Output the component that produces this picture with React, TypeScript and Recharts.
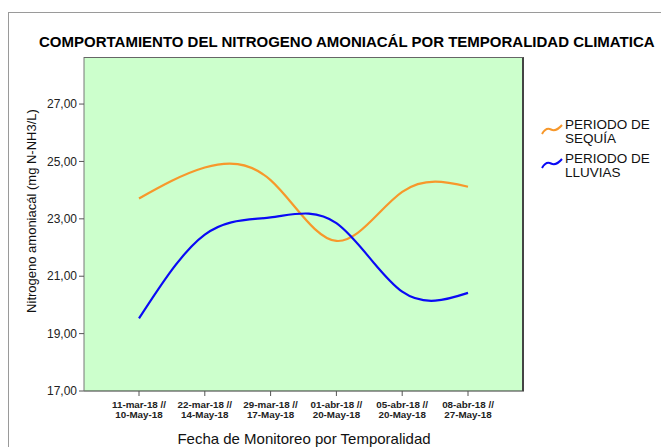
import React from "react";
import {
  LineChart,
  Line,
  XAxis,
  YAxis,
  CartesianGrid,
} from "recharts";

// ---- data ----
const fechasSequia = ["11-mar-18", "22-mar-18", "29-mar-18", "01-abr-18", "05-abr-18", "08-abr-18"];
const fechasLluvias = ["10-May-18", "14-May-18", "17-May-18", "20-May-18", "20-May-18", "27-May-18"];
const sequia = [23.71, 24.79, 24.35, 22.23, 23.94, 24.12];
const lluvias = [19.53, 22.45, 23.05, 22.85, 20.46, 20.42];
const yTicks = [17, 19, 21, 23, 25, 27];
const yDomain = [17, 28.64];
const seriesNames = ["PERIODO DE SEQUÍA", "PERIODO DE LLUVIAS"];
const seriesColors = ["#F7982B", "#0A0AF5"];
const titulo = "COMPORTAMIENTO DEL NITROGENO AMONIACÁL POR TEMPORALIDAD CLIMATICA";
const yTitulo = "Nitrogeno amoniacál  (mg N-NH3/L)";
const xTitulo = "Fecha de Monitoreo por Temporalidad";

const data = fechasSequia.map((f, i) => ({
  fecha: f,
  sequia: sequia[i],
  lluvias: lluvias[i],
}));

const FONT = "Arial, 'Liberation Sans', Helvetica, sans-serif";

const XTick = (props: any) => {
  const { x, y, payload } = props;
  const i = payload.index;
  return (
    <text
      x={x}
      y={y}
      textAnchor="middle"
      fontFamily={FONT}
      fontSize={9.8}
      fontWeight="bold"
      fill="#222"
    >
      <tspan x={x} dy={9.5}>{fechasSequia[i] + " //"}</tspan>
      <tspan x={x} dy={10.8}>{fechasLluvias[i]}</tspan>
    </text>
  );
};

const fmt = (v: number) => v.toFixed(2).replace(".", ",");

// plot area in wrapper coordinates
const PLOT = { left: 76, top: 49, width: 440, height: 334 };

export default function App() {
  return (
    <div
      style={{
        position: "fixed",
        left: 8,
        top: 8,
        width: 653,
        height: 439,
        overflow: "hidden",
        background: "#fff",
      }}
    >
      <div
        style={{
          position: "absolute",
          left: 0,
          top: 4,
          width: 700,
          height: 500,
          border: "1px solid #9a9a9a",
        }}
      />
      <div
        style={{
          position: "absolute",
          left: 31,
          top: 26,
          fontFamily: FONT,
          fontWeight: "bold",
          fontSize: 15,
          lineHeight: "15px",
          whiteSpace: "nowrap",
          color: "#000",
        }}
      >
        {titulo}
      </div>
      <div style={{ position: "absolute", left: 0, top: 0 }}>
        <LineChart
          width={653}
          height={439}
          data={data}
          margin={{ top: PLOT.top, right: 653 - PLOT.left - PLOT.width, bottom: 16, left: 16 }}
        >
          <CartesianGrid
            fill="#CCFFCC"
            fillOpacity={1}
            horizontal={false}
            vertical={false}
          />
          <XAxis
            dataKey="fecha"
            type="category"
            height={40}
            padding={{ left: 55, right: 56 }}
            tick={<XTick />}
            tickSize={5}
            tickLine={{ stroke: "#555" }}
            axisLine={{ stroke: "#333" }}
            interval={0}
            label={{
              content: (p: any) => {
                const vb = p.viewBox;
                return (
                  <text
                    x={vb.x + vb.width / 2}
                    y={435.5}
                    textAnchor="middle"
                    fontFamily={FONT}
                    fontSize={15}
                    fill="#111"
                  >
                    {xTitulo}
                  </text>
                );
              },
            }}
          />
          <YAxis
            type="number"
            domain={yDomain}
            ticks={yTicks}
            width={60}
            tickFormatter={fmt}
            tickSize={5}
            tickLine={{ stroke: "#555" }}
            axisLine={{ stroke: "#777" }}
            tick={{ fontFamily: FONT, fontSize: 12, fill: "#222" }}
            allowDataOverflow
            label={{
              content: () => (
                <text
                  x={23}
                  y={203}
                  transform="rotate(-90, 23, 203)"
                  textAnchor="middle"
                  dominantBaseline="central"
                  fontFamily={FONT}
                  fontSize={13}
                  fill="#111"
                >
                  {yTitulo}
                </text>
              ),
            }}
          />
          <Line
            dataKey="sequia"
            name={seriesNames[0]}
            type="natural"
            stroke={seriesColors[0]}
            strokeWidth={2.2}
            dot={false}
            activeDot={false}
            isAnimationActive={false}
          />
          <Line
            dataKey="lluvias"
            name={seriesNames[1]}
            type="natural"
            stroke={seriesColors[1]}
            strokeWidth={2.2}
            dot={false}
            activeDot={false}
            isAnimationActive={false}
          />
        </LineChart>
      </div>
      <div
        style={{
          position: "absolute",
          left: PLOT.left,
          top: PLOT.top,
          width: PLOT.width,
          height: PLOT.height,
          boxSizing: "border-box",
          borderTop: "1px solid #666",
          borderRight: "2px solid #444",
          pointerEvents: "none",
        }}
      />
      <div
        style={{
          position: "absolute",
          left: 531,
          top: 110,
          fontFamily: FONT,
          fontSize: 13.5,
          lineHeight: "14px",
          color: "#111",
        }}
      >
        {seriesNames.map((n, i) => (
          <div key={n} style={{ display: "flex", alignItems: "flex-start", marginBottom: 6 }}>
            <svg width={26} height={28} style={{ flex: "none" }}>
              <path
                d="M3 16 Q7 9 12 11.5 T23 7"
                fill="none"
                stroke={seriesColors[i]}
                strokeWidth={2}
              />
            </svg>
            <div style={{ width: 96 }}>{n}</div>
          </div>
        ))}
      </div>
    </div>
  );
}
